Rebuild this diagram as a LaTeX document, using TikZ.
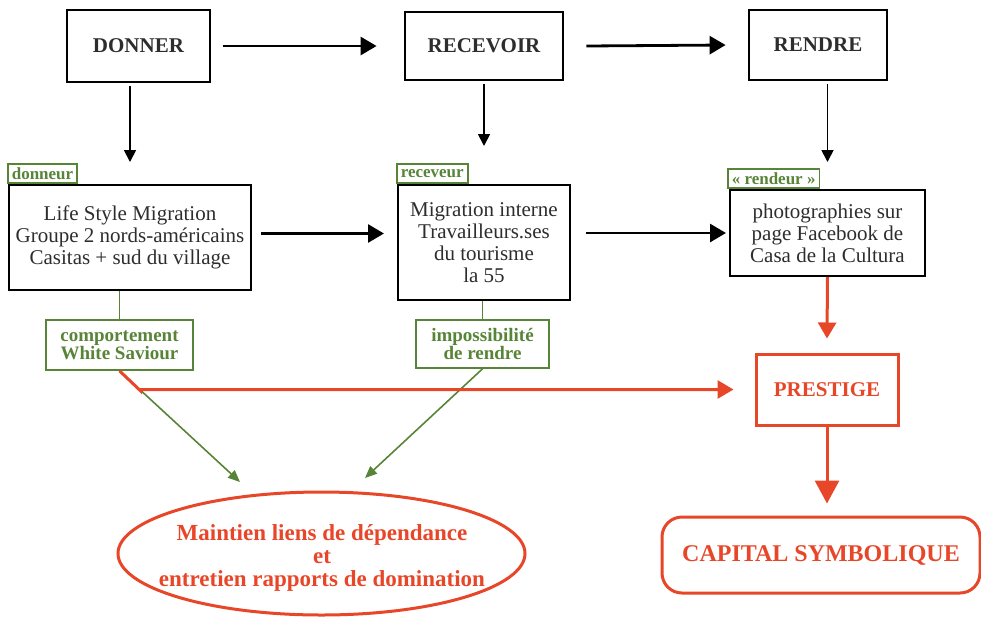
\documentclass[tikz,border=0pt]{standalone}
\usepackage{fontspec}
\setmainfont{Liberation Serif}
\usetikzlibrary{arrows.meta}
\definecolor{rouge}{RGB}{232,70,40}
\definecolor{vert}{RGB}{88,132,56}
\definecolor{encre}{RGB}{45,45,45}
\tikzset{titre/.style = {draw, line width = 1.4pt, font = \fontsize{10.5}{12}\selectfont\bfseries, text = encre}}
\tikzset{cadre/.style = {draw, line width = 1pt, align = center, font = \fontsize{10.5}{11}\selectfont, text = encre}}
\tikzset{etiq/.style = {draw = vert, line width = 0.8pt, text = vert, font = \fontsize{8.5}{9}\selectfont\bfseries, inner xsep = 2pt, inner ysep = 0, minimum height = 9.5pt, anchor = south west}}
\tikzset{note/.style = {draw = vert, line width = 0.8pt, text = vert, align = center, font = \fontsize{9.5}{8.8}\selectfont\bfseries}}
\tikzset{fin/.style = {draw = rouge, line width = 1.5pt, text = rouge, align = center}}
\tikzset{noir/.style = {line width = 1.4pt, -{Triangle[length = 8pt, width = 9pt]}}}
\tikzset{noirfin/.style = {line width = 0.9pt, -{Triangle[length = 6pt, width = 6pt]}}}
\tikzset{lienvert/.style = {draw = vert, line width = 0.8pt}}
\tikzset{flvert/.style = {vert, line width = 0.8pt, -{Triangle[length = 6pt, width = 5pt]}}}
\tikzset{flrouge/.style = {rouge, line width = 1.5pt, -{Triangle[length = 8pt, width = 9pt]}}}

\begin{document}
\begin{tikzpicture}[x = 0.5pt, y = -0.5pt]
  \useasboundingbox (0, 0) rectangle (981, 618);

  \node [titre, minimum width = 71.5pt, minimum height = 36pt] (donner) at (138.5, 46) {DONNER};
  \node [titre, minimum width = 79pt, minimum height = 34pt] (recevoir) at (484, 46) {RECEVOIR};
  \node [titre, minimum width = 69pt, minimum height = 35pt] (rendre) at (818, 45) {RENDRE};

  \node [cadre, minimum width = 119pt, minimum height = 52.5pt] (b1) at (130, 237.5) {Life Style Migration\\Groupe 2 nords-américains\\Casitas + sud du village};
  \node [cadre, minimum width = 86pt, minimum height = 57.5pt] (b2) at (484, 242.5) {Migration interne\\Travailleurs.ses\\du tourisme\\la 55};
  \node [cadre, minimum width = 97.5pt, minimum height = 43pt] (b3) at (827.5, 233) {photographies sur\\page Facebook de\\Casa de la Cultura};

  \node [etiq] (donneur) at ([xshift = -0.5pt] b1.north west) {donneur};
  \node [etiq] (receveur) at ([xshift = -0.5pt] b2.north west) {receveur};
  \node [etiq] (rendeur) at ([xshift = -1pt] b3.north west) {« rendeur »};

  \node [note, minimum width = 73.5pt, minimum height = 25pt] (comport) at (119.5, 345) {comportement\\White Saviour};
  \node [note, minimum width = 66.5pt, minimum height = 24pt] (impos) at (482.5, 344) {impossibilité\\de rendre};

  \node [fin, minimum width = 71pt, minimum height = 35.5pt, font = \fontsize{10.5}{12}\selectfont\bfseries] (prestige) at (827, 389.5) {PRESTIGE};
  \node [text = rouge, align = center, font = \fontsize{11.5}{11.5}\selectfont\bfseries] (maintien) at (322, 558) {Maintien liens de dépendance\\et\\entretien rapports de domination};
  \draw [rouge, line width = 1.5pt] ([shift = {(-0.5, -4.5)}] maintien.center) ellipse (101.75pt and 30.75pt);
  \node [fin, rounded corners = 10pt, minimum width = 159pt, minimum height = 38pt, font = \fontsize{12}{14}\selectfont\bfseries] (capital) at (821, 555) {CAPITAL SYMBOLIQUE};

  \draw [noir] ([xshift = 6pt] donner.east) -- ([xshift = -13.5pt] recevoir.west);
  \draw [noir] ([xshift = 11pt] recevoir.east) -- ([xshift = -11pt] rendre.west);
  \draw [noirfin] ([yshift = -1.5pt] donner.south -| b1.north) -- ([yshift = 11pt] b1.north);
  \draw [noirfin] ([yshift = -1.5pt] recevoir.south) -- ([yshift = 19pt] b2.north);
  \draw [noirfin] ([yshift = -1.5pt] rendre.south -| b3.north) -- ([yshift = 13.5pt] b3.north);
  \draw [noir] ([shift = {(9, -4)}] b1.east) -- ([shift = {(-13, -9)}] b2.west);
  \draw [noir] ([shift = {(15, -9.5)}] b2.east) -- ([shift = {(-3, 0)}] b3.west);

  \draw [lienvert] (b1.south -| comport.north) -- (comport.north);
  \draw [lienvert] (b2.south -| impos.north) -- (impos.north);
  \draw [flvert] (comport.south) -- ([shift = {(-82, -76)}] maintien.center);
  \draw [flvert] (impos.south) -- ([shift = {(43, -80)}] maintien.center);

  \draw [flrouge, shorten > = 10.5pt] (comport.south) -- ++(21, 20) |- (prestige.west);
  \draw [flrouge] (b3.south) -- ([yshift = 7pt] prestige.north);
  \draw [flrouge, -{Triangle[length = 11.5pt, width = 12pt]}] (prestige.south) -- ([yshift = 6pt] capital.north -| prestige.south);
\end{tikzpicture}
\end{document}
